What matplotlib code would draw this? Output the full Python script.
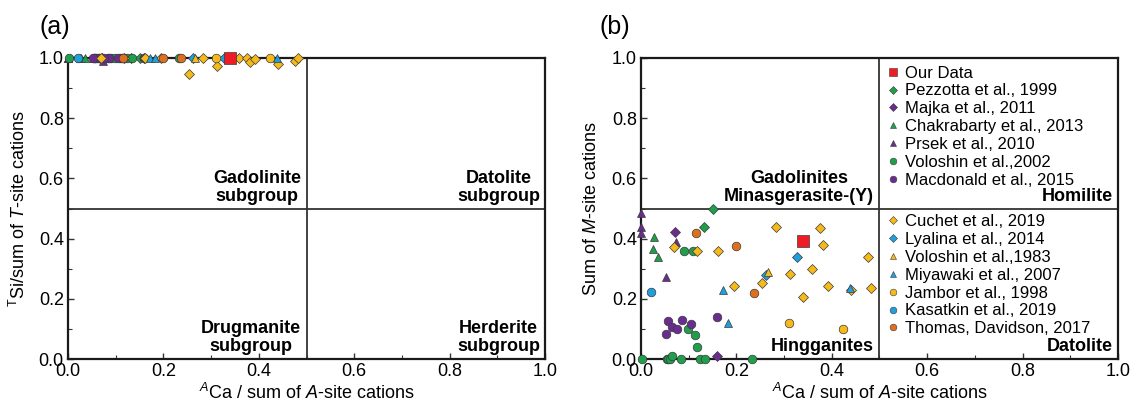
import matplotlib
matplotlib.use("Agg")
import matplotlib.pyplot as plt
from matplotlib.lines import Line2D

plt.rcParams['font.family'] = ['Liberation Sans', 'DejaVu Sans']
plt.rcParams['mathtext.fontset'] = 'custom'
plt.rcParams['mathtext.rm'] = 'Liberation Sans'
plt.rcParams['mathtext.it'] = 'Liberation Sans:italic'
plt.rcParams['mathtext.bf'] = 'Liberation Sans:bold'

# ---------------- data ----------------
# each series: x = ACa / sum A-site, yM = sum of M-site cations (panel b), yT = TSi / sum T-site (panel a)
our_x = [0.340]
our_yM = [0.392]
our_yT = [1.0]

pezzotta_x = [0.150, 0.132]
pezzotta_yM = [0.498, 0.440]
pezzotta_yT = [1.0, 1.0]

majka_x = [0.071, 0.159]
majka_yM = [0.423, 0.010]
majka_yT = [1.0, 1.0]

chakrabarty_x = [0.028, 0.0245, 0.035]
chakrabarty_yM = [0.404, 0.365, 0.338]
chakrabarty_yT = [1.0, 1.0, 1.0]

prsek_x = [0.0, 0.0, 0.0, 0.052, 0.073]
prsek_yM = [0.484, 0.437, 0.420, 0.273, 0.390]
prsek_yT = [1.0, 1.0, 1.0, 1.0, 0.99]

voloshin02_x = [0.091, 0.108, 0.098, 0.113, 0.117, 0.003, 0.054, 0.057, 0.061, 0.066, 0.084, 0.124, 0.134, 0.232]
voloshin02_yM = [0.360, 0.360, 0.099, 0.080, 0.039, 0.0, 0.0, 0.0, 0.0, 0.010, 0.0, 0.0, 0.0, 0.0]
voloshin02_yT = [1.0] * 14

macdonald_x = [0.057, 0.085, 0.066, 0.075, 0.105, 0.052, 0.159]
macdonald_yM = [0.127, 0.130, 0.107, 0.100, 0.115, 0.083, 0.138]
macdonald_yT = [1.0] * 7

cuchet_x = [0.070, 0.117, 0.161, 0.195, 0.254, 0.284, 0.312, 0.339, 0.358, 0.375, 0.382, 0.391, 0.440, 0.475, 0.482]
cuchet_yM = [0.373, 0.360, 0.360, 0.243, 0.254, 0.440, 0.282, 0.207, 0.298, 0.436, 0.379, 0.243, 0.228, 0.338, 0.235]
cuchet_yT = [1.0, 1.0, 1.0, 1.0, 0.947, 1.0, 0.974, 1.0, 1.0, 1.0, 0.988, 0.996, 0.979, 0.990, 1.0]

lyalina_x = [0.262, 0.328]
lyalina_yM = [0.279, 0.340]
lyalina_yT = [1.0, 1.0]

voloshin83_x = [0.266]
voloshin83_yM = [0.288]
voloshin83_yT = [1.0]

miyawaki_x = [0.171, 0.182, 0.438]
miyawaki_yM = [0.229, 0.118, 0.237]
miyawaki_yT = [1.0, 1.0, 1.0]

jambor_x = [0.311, 0.424]
jambor_yM = [0.119, 0.100]
jambor_yT = [1.0, 1.0]

kasatkin_x = [0.020]
kasatkin_yM = [0.224]
kasatkin_yT = [1.0]

thomas_x = [0.115, 0.199, 0.236]
thomas_yM = [0.418, 0.375, 0.220]
thomas_yT = [1.0, 1.0, 1.0]

GREEN = '#1f9e4b'
PURPLE = '#6a2d8f'
YELLOW = '#f6b91a'
BLUE = '#1fa0dd'
ORANGE = '#de6f1f'
RED = '#ee1c24'

# label, x, yM, yT, marker, color, size
series_upper = [
    ("Our Data", our_x, our_yM, our_yT, 's', RED, 8.0),
    ("Pezzotta et al., 1999", pezzotta_x, pezzotta_yM, pezzotta_yT, 'D', GREEN, 4.8),
    ("Majka et al., 2011", majka_x, majka_yM, majka_yT, 'D', PURPLE, 4.8),
    ("Chakrabarty et al., 2013", chakrabarty_x, chakrabarty_yM, chakrabarty_yT, '^', GREEN, 6.4),
    ("Prsek et al., 2010", prsek_x, prsek_yM, prsek_yT, '^', PURPLE, 6.4),
    ("Voloshin et al.,2002", voloshin02_x, voloshin02_yM, voloshin02_yT, 'o', GREEN, 6.2),
    ("Macdonald et al., 2015", macdonald_x, macdonald_yM, macdonald_yT, 'o', PURPLE, 6.2),
]
series_lower = [
    ("Cuchet et al., 2019", cuchet_x, cuchet_yM, cuchet_yT, 'D', YELLOW, 4.8),
    ("Lyalina et al., 2014", lyalina_x, lyalina_yM, lyalina_yT, 'D', BLUE, 4.8),
    ("Voloshin et al.,1983", voloshin83_x, voloshin83_yM, voloshin83_yT, '^', YELLOW, 6.4),
    ("Miyawaki et al., 2007", miyawaki_x, miyawaki_yM, miyawaki_yT, '^', BLUE, 6.4),
    ("Jambor et al., 1998", jambor_x, jambor_yM, jambor_yT, 'o', YELLOW, 6.2),
    ("Kasatkin et al., 2019", kasatkin_x, kasatkin_yM, kasatkin_yT, 'o', BLUE, 6.2),
    ("Thomas, Davidson, 2017", thomas_x, thomas_yM, thomas_yT, 'o', ORANGE, 6.2),
]
draw_order = series_upper[1:] + series_lower + series_upper[:1]

EDGE = '#3a3a3a'

fig = plt.figure(figsize=(11.37, 4.07), dpi=100)
axa = fig.add_axes([68 / 1137, 48 / 407, 477 / 1137, 301 / 407])
axb = fig.add_axes([641 / 1137, 48 / 407, 477 / 1137, 301 / 407])


def style_axes(ax):
    ax.set_xlim(0, 1)
    ax.set_ylim(0, 1)
    ax.set_xticks([0, 0.2, 0.4, 0.6, 0.8, 1.0])
    ax.set_yticks([0, 0.2, 0.4, 0.6, 0.8, 1.0])
    ax.set_xticks([0.1, 0.3, 0.5, 0.7, 0.9], minor=True)
    ax.set_yticks([0.1, 0.3, 0.5, 0.7, 0.9], minor=True)
    ax.xaxis.set_major_formatter(matplotlib.ticker.FormatStrFormatter('%.1f'))
    ax.yaxis.set_major_formatter(matplotlib.ticker.FormatStrFormatter('%.1f'))
    ax.tick_params(which='both', direction='in', labelsize=13, color='#333333')
    ax.tick_params(which='major', length=4, width=1, pad=3)
    ax.tick_params(which='minor', length=3, width=0.8)
    for s in ax.spines.values():
        s.set_linewidth(1.6)
        s.set_color('#1a1a1a')
    ax.axvline(0.5, color='#333333', lw=1.3, zorder=1)
    ax.axhline(0.5, color='#333333', lw=1.3, zorder=1)
    ax.set_xlabel(r'$^{\mathit{A}}$Ca / sum of $\mathit{A}$-site cations', fontsize=13, labelpad=2)


style_axes(axa)
style_axes(axb)

for lab, xs, yM, yT, mk, col, ms in draw_order:
    axa.plot(xs, yT, linestyle='none', marker=mk, markersize=ms, markerfacecolor=col,
             markeredgecolor=EDGE, markeredgewidth=0.5, clip_on=False, zorder=5)
    axb.plot(xs, yM, linestyle='none', marker=mk, markersize=ms, markerfacecolor=col,
             markeredgecolor=EDGE, markeredgewidth=0.5, clip_on=False, zorder=5)

axa.set_ylabel(r'$^{\mathrm{T}}$Si/sum of $\mathit{T}$-site cations', fontsize=13)
axa.yaxis.set_label_coords(-0.082, 0.5)
axb.set_ylabel(r'Sum of $\mathit{M}$-site cations', fontsize=13)
axb.yaxis.set_label_coords(-0.085, 0.5)

bold = dict(fontsize=13, fontweight='bold', ha='right', va='bottom', multialignment='center',
            linespacing=1.1)
axa.text(0.488, 0.51, "Gadolinite\nsubgroup", **bold)
axa.text(0.99, 0.51, "Datolite\nsubgroup", **bold)
axa.text(0.488, 0.012, "Drugmanite\nsubgroup", **bold)
axa.text(0.99, 0.012, "Herderite\nsubgroup", **bold)

axb.text(0.488, 0.51, "Gadolinites\nMinasgerasite-(Y)", **bold)
axb.text(0.99, 0.51, "Homilite", **bold)
axb.text(0.488, 0.012, "Hingganites", **bold)
axb.text(0.99, 0.012, "Datolite", **bold)


def handles(series):
    hs = []
    for lab, xs, yM, yT, mk, col, ms in series:
        hs.append(Line2D([], [], linestyle='none', marker=mk, markersize=ms * 0.78,
                         markerfacecolor=col, markeredgecolor=EDGE, markeredgewidth=0.4, label=lab))
    return hs


leg_kw = dict(frameon=False, fontsize=12, handlelength=0.6, handletextpad=0.45, labelspacing=0.17,
              borderpad=0, borderaxespad=0, loc='upper left')
leg1 = axb.legend(handles=handles(series_upper), bbox_to_anchor=(0.517, 0.975), **leg_kw)
axb.add_artist(leg1)
axb.legend(handles=handles(series_lower), bbox_to_anchor=(0.517, 0.481), **leg_kw)

fig.text(0.035, 0.934, "(a)", fontsize=18, va='center', ha='left')
fig.text(0.527, 0.934, "(b)", fontsize=18, va='center', ha='left')

fig.savefig("out.png", dpi=100)
